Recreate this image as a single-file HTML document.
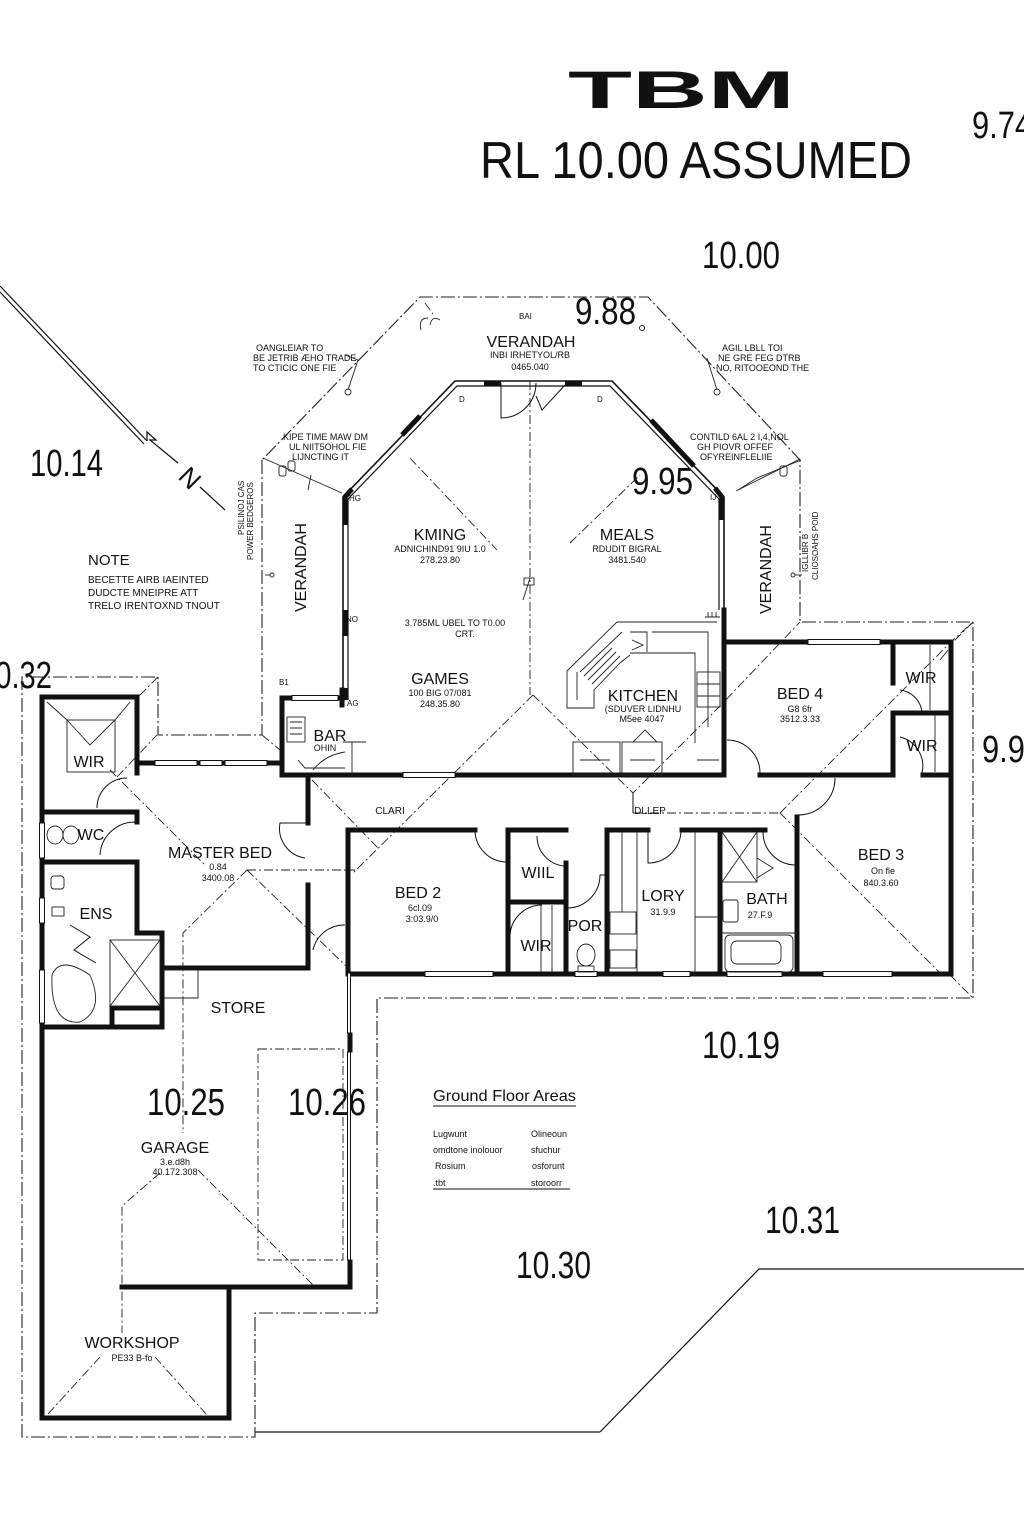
<!DOCTYPE html>
<html><head><meta charset="utf-8"><style>
html,body{margin:0;padding:0;background:#fff;}
svg{display:block;}
text{font-family:"Liberation Sans",Arial,sans-serif;fill:#111;}
.s{font-size:9px;}
.l{font-size:16px;}
.n{font-size:38px;}
</style></head><body>
<svg width="1024" height="1536" viewBox="0 0 1024 1536" xmlns="http://www.w3.org/2000/svg">
<rect width="1024" height="1536" fill="#fff"/>

<!-- Titles -->
<text x="568" y="108" font-size="53" font-weight="bold" textLength="227" lengthAdjust="spacingAndGlyphs">TBM</text>
<text x="480" y="178" font-size="52" textLength="432" lengthAdjust="spacingAndGlyphs">RL 10.00 ASSUMED</text>

<!-- Level numbers -->
<g class="n">
<text x="972" y="138" textLength="60" lengthAdjust="spacingAndGlyphs">9.74</text>
<text x="702" y="268" textLength="78" lengthAdjust="spacingAndGlyphs">10.00</text>
<text x="575" y="324" textLength="61" lengthAdjust="spacingAndGlyphs">9.88</text>
<text x="30" y="476" textLength="73" lengthAdjust="spacingAndGlyphs">10.14</text>
<text x="632" y="494" textLength="61" lengthAdjust="spacingAndGlyphs">9.95</text>
<text x="-21" y="688" textLength="73" lengthAdjust="spacingAndGlyphs">10.32</text>
<text x="982" y="762" textLength="60" lengthAdjust="spacingAndGlyphs">9.95</text>
<text x="702" y="1058" textLength="78" lengthAdjust="spacingAndGlyphs">10.19</text>
<text x="147" y="1115" textLength="78" lengthAdjust="spacingAndGlyphs">10.25</text>
<text x="288" y="1115" textLength="78" lengthAdjust="spacingAndGlyphs">10.26</text>
<text x="765" y="1233" textLength="75" lengthAdjust="spacingAndGlyphs">10.31</text>
<text x="516" y="1278" textLength="75" lengthAdjust="spacingAndGlyphs">10.30</text>
</g>

<!-- Property line / north -->
<g stroke="#111" stroke-width="1.2" fill="none">
<path d="M0,286 L147,441"/>
<path d="M0,292 L144,444"/>
<path d="M147,441 L147,432 L156,440 L150,440 L178,463"/>
<path d="M200,487 L225,510"/>
<path d="M600,1432 L759,1269 L1024,1269"/>
<path d="M255,1432 L600,1432"/>
</g>
<text x="190" y="487" font-size="26" transform="rotate(45 190 478)" text-anchor="middle">N</text>

<!-- Dash-dot boundaries -->
<g stroke="#222" stroke-width="1.1" fill="none" stroke-dasharray="14 3 2 3">
<path d="M262,460 L262,735 L158,735 L158,677 L22,677 L22,1437 L255,1437 L255,1313 L377,1313 L377,998 L973,998 L973,622 L800,622 L800,460 L648,297 L420,297 L262,460"/>
</g>

<!-- Roof hip dashed lines -->
<g stroke="#222" stroke-width="0.9" fill="none" stroke-dasharray="9 3 2 3">
<path d="M530,381 L530,695"/>
<path d="M533,695 L352,874"/>
<path d="M247,870 L355,870"/>
<path d="M247,870 L183,933 L183,1133"/>
<path d="M247,870 L347,967"/>
<path d="M312,780 L378,848"/>
<path d="M110,770 L205,865"/>
<path d="M117,777 L157,735"/>
<path d="M262,735 L280,750"/>
<path d="M533,695 L633,793 L720,706 L800,622"/>
<path d="M633,813 L780,813"/>
<path d="M780,813 L953,640 L973,622"/>
<path d="M780,813 L940,973"/>
<path d="M950,975 L973,998"/>
<path d="M410,458 L497,550"/>
<path d="M570,543 L640,475"/>
<path d="M160,1173 L122,1206 L122,1333"/>
<path d="M198,1170 L313,1285"/>
<path d="M100,1357 L48,1414"/>
<path d="M155,1357 L207,1415"/>
<path d="M258,1049 L343,1049 L343,1260 L258,1260 Z"/>
<path d="M425,303 L433,314"/>
<path d="M158,677 L135,700"/>
<path d="M973,622 L953,642"/>
</g>
<path d="M633,793 L633,813" stroke="#111" stroke-width="1" fill="none"/>

<!-- Octagon living walls -->
<g fill="none" stroke="#111">
<path d="M343,700 L343,497 L455,381 L612,381 L724,497 L724,610" stroke-width="1.6"/>
<path d="M348,700 L348,499 L457,386 L610,386 L719,499 L719,610" stroke-width="1.2"/>
<g stroke-width="5">
<path d="M345,525 L345,497 L352,489"/>
<path d="M345,610 L345,636"/>
<path d="M345,688 L345,700"/>
<path d="M402,435 L420,416"/>
<path d="M484,383 L501,383"/>
<path d="M565,383 L582,383"/>
<path d="M651,420 L694,466"/>
<path d="M715,488 L722,497 L722,520"/>
</g>
</g>
<!-- top door -->
<g fill="none" stroke="#111" stroke-width="1">
<path d="M501,383 L501,418 A35,35 0 0 0 536,383"/>
<path d="M565,385 L542,410 L536,396"/>
</g>

<!-- Thick walls -->
<g fill="none" stroke="#111" stroke-width="5" stroke-linecap="square">
<path d="M42,697 L137,697 L137,773"/>
<path d="M42,697 L42,1418 L229,1418 L229,1287"/>
<path d="M122,1287 L350,1287 L350,1262"/>
<path d="M350,1050 L350,1035"/>
<path d="M137,763 L282,763"/>
<path d="M282,775 L282,698 L342,698"/>
<path d="M342,690 L342,705"/>
<path d="M282,775 L724,775"/>
<path d="M308,775 L308,823"/>
<path d="M308,885 L308,968 L162,968"/>
<path d="M42,812 L137,812 L137,822"/>
<path d="M42,862 L137,862 L137,933 L162,933 L162,1027"/>
<path d="M42,1027 L162,1027"/>
<path d="M112,1027 L112,1008 L162,1008"/>
<path d="M348,830 L348,974"/>
<path d="M348,830 L475,830"/>
<path d="M508,830 L566,830"/>
<path d="M508,830 L508,974"/>
<path d="M508,902 L566,902"/>
<path d="M566,863 L566,974"/>
<path d="M607,974 L607,830 L648,830"/>
<path d="M682,830 L765,830"/>
<path d="M720,830 L720,974"/>
<path d="M797,817 L797,974"/>
<path d="M348,974 L951,974"/>
<path d="M724,610 L724,775"/>
<path d="M724,642 L951,642 L951,974"/>
<path d="M893,642 L893,683"/>
<path d="M893,713 L951,713"/>
<path d="M893,713 L893,775 L760,775"/>
<path d="M923,775 L951,775"/>
</g>

<!-- Windows (double thin lines) -->
<g fill="#fff" stroke="#111" stroke-width="1">
<rect x="155" y="760.5" width="42" height="5"/>
<rect x="200" y="760.5" width="22" height="5"/>
<rect x="225" y="760.5" width="42" height="5"/>
<rect x="292" y="695.5" width="46" height="5"/>
<rect x="403" y="772.5" width="52" height="5"/>
<rect x="39.5" y="823" width="5" height="35"/>
<rect x="39.5" y="898" width="5" height="25"/>
<rect x="39.5" y="970" width="5" height="53"/>
<rect x="425" y="971.5" width="68" height="5"/>
<rect x="575" y="971.5" width="22" height="5"/>
<rect x="663" y="971.5" width="27" height="5"/>
<rect x="727" y="971.5" width="55" height="5"/>
<rect x="823" y="971.5" width="69" height="5"/>
<rect x="808" y="639.5" width="72" height="5"/>
<rect x="347.5" y="973" width="3" height="60"/>
<rect x="347.5" y="1052" width="3" height="208"/>
</g>

<!-- Doors -->
<g fill="none" stroke="#111" stroke-width="1">
<path d="M308,823 L280,823 A30,30 0 0 0 305,858"/>
<path d="M97,808 A30,30 0 0 1 127,778"/>
<path d="M100,855 A35,35 0 0 1 135,822"/>
<path d="M70,925 L90,937 L74,950 L96,963"/>
<path d="M313,950 A32,32 0 0 1 345,925"/>
<path d="M475,830 A32,32 0 0 0 507,862"/>
<path d="M537,836 A30,30 0 0 0 564,866"/>
<path d="M510,937 A32,32 0 0 1 542,905"/>
<path d="M567,908 A33,33 0 0 0 600,875 L607,875"/>
<path d="M648,830 L648,863 A33,33 0 0 0 681,830"/>
<path d="M763,832 A33,33 0 0 0 796,865"/>
<path d="M798,815 A37,37 0 0 0 835,778"/>
<path d="M727,740 A33,33 0 0 1 760,773"/>
<path d="M900,690 A25,25 0 0 1 922,712"/>
<path d="M900,737 A30,30 0 0 1 922,773"/>
</g>

<!-- Fixtures / fittings -->
<g fill="none" stroke="#222" stroke-width="0.9">
<!-- left WIR hip -->
<path d="M47,702 L67,720 M130,702 L115,720"/>
<rect x="67" y="720" width="48" height="52"/>
<path d="M67,720 L90,745 L115,720"/>
<!-- WC -->
<ellipse cx="55" cy="835" rx="8" ry="9"/>
<ellipse cx="71" cy="835" rx="8" ry="9"/>
<!-- ENS -->
<rect x="51" y="876" width="13" height="13" rx="3"/>
<rect x="52" y="907" width="12" height="9"/>
<rect x="110" y="940" width="50" height="66"/>
<path d="M110,940 L160,1006 M160,940 L110,1006"/>
<path d="M52,975 Q60,955 90,975 Q105,1010 80,1022 Q50,1025 52,975"/>
<!-- BAR -->
<rect x="287" y="717" width="18" height="25"/>
<path d="M290,722 h12 M290,728 h12 M290,734 h12"/>
<path d="M298,760 L305,768 L345,768 M345,752 Q325,755 313,770"/>
<path d="M352,742 L352,775 M343,742 L366,742"/>
<!-- Kitchen -->
<path d="M617,622 L717,622 M617,622 L567,671 L567,708 L594,708 L594,690 L620,663 L630,655"/>
<path d="M577,672 L577,700 M622,632 L580,672"/>
<path d="M630,653 L695,653 L695,743"/>
<path d="M630,632 L647,632 L647,652 M652,632 L708,632 L708,727"/>
<path d="M632,640 L643,645 L632,650"/>
<path d="M584,676 L612,648 M588,680 L616,652 M592,684 L620,656"/>
<rect x="573" y="742" width="47" height="33"/>
<rect x="622" y="742" width="40" height="33"/>
<path d="M633,742 L645,730 L657,742"/>
<rect x="697" y="672" width="23" height="35"/>
<path d="M697,684 h23 M697,696 h23"/>
<path d="M705,617 h15 M708,612 v5 M712,612 v5 M716,612 v5"/>
<path d="M580,760 h30 M630,760 h25 M697,760 h22"/>
<!-- LORY -->
<path d="M622,832 L622,912 M637,832 L637,972 M695,832 L695,972 M695,917 L720,917"/>
<rect x="610" y="912" width="26" height="22"/>
<rect x="610" y="950" width="26" height="18"/>
<!-- POR -->
<ellipse cx="586" cy="955" rx="9" ry="11"/>
<rect x="578" y="966" width="16" height="6"/>
<!-- WIR bed2 -->
<path d="M541,905 L541,972 M552,905 L552,972"/>
<!-- BATH -->
<rect x="722" y="832" width="35" height="50"/>
<path d="M722,832 L757,882 M757,832 L722,882"/>
<path d="M757,858 L773,868 L757,878"/>
<rect x="723" y="900" width="15" height="22" rx="2"/>
<path d="M720,933 L797,933"/>
<rect x="725" y="935" width="68" height="37" rx="5"/>
<rect x="731" y="941" width="50" height="23" rx="6"/>
<!-- Bed4 WIRs -->
<path d="M930,645 L930,710 M935,715 L935,772"/>
<path d="M940,660 L948,650"/>
<!-- store -->
<path d="M163,970 L198,970 L198,998 L163,998"/>
<!-- verandah leaders -->
<path d="M263,458 L342,493"/>
<path d="M800,459 L736,491"/>
<path d="M345,355 L358,360 L348,390"/>
<circle cx="348" cy="392" r="3"/>
<path d="M707,358 L717,390"/>
<circle cx="717" cy="392" r="3"/>
<path d="M311,475 L308,490"/>
<path d="M757,478 L738,490 M757,478 L801,460"/>
<path d="M421,330 Q418,318 428,318 M430,325 Q432,315 440,320"/>
<circle cx="642" cy="328" r="2.5"/>
<rect x="279" y="466" width="7" height="10" rx="2"/>
<rect x="288" y="461" width="7" height="10" rx="2"/>
<rect x="780" y="466" width="7" height="10" rx="2"/>
<path d="M265,575 L270,575"/>
<circle cx="272" cy="575" r="2"/>
<path d="M795,575 L802,575"/>
<circle cx="793" cy="575" r="2"/>
<path d="M530,578 L523,600"/>
<rect x="524" y="578" width="10" height="7"/>
</g>

<!-- Notes -->
<g class="s">
<text x="256" y="351">OANGLEIAR TO</text>
<text x="253" y="361">BE JETRIB ÆHO TRADE</text>
<text x="253" y="371">TO CTICIC ONE FIE</text>
<text x="722" y="351">AGIL LBLL TOI</text>
<text x="718" y="361">NE GRE FEG DTRB</text>
<text x="716" y="371">NO, RITOOEOND THE</text>
<text x="283" y="440">KIPE TIME MAW DM</text>
<text x="289" y="450">UL NIIT5OHOL FIE</text>
<text x="292" y="460">LIJNCTING IT</text>
<text x="690" y="440">CONTILD 6AL 2 I,4,NOL</text>
<text x="697" y="450">GH PIOVR OFFEF</text>
<text x="700" y="460">OFYREINFLELIIE</text>
<text x="519" y="319" font-size="8">BAI</text>
<text x="459" y="402" font-size="8">D</text>
<text x="597" y="402" font-size="8">D</text>
<text x="349" y="501" font-size="8">HG</text>
<text x="710" y="500" font-size="8">IJ</text>
<text x="346" y="622" font-size="8">NO</text>
<text x="347" y="706" font-size="8">AG</text>
<text x="279" y="685" font-size="8">B1</text>
<text x="244" y="535" transform="rotate(-90 244 535)" font-size="8">PSILINOJ CAS</text>
<text x="253" y="560" transform="rotate(-90 253 560)" font-size="8">POWER BEDGEROS</text>
<text x="808" y="572" transform="rotate(-90 808 572)" font-size="8">IGLLIBR B</text>
<text x="818" y="580" transform="rotate(-90 818 580)" font-size="8">CLIOSOAHS POID</text>
</g>

<text x="88" y="565" font-size="15">NOTE</text>
<g font-size="10">
<text x="88" y="583">BECETTE AIRB IAEINTED</text>
<text x="88" y="596">DUDCTE MNEIPRE ATT</text>
<text x="88" y="609">TRELO IRENTOXND TNOUT</text>
</g>

<!-- Verandah rotated labels -->
<text x="306" y="612" class="l" font-size="17" transform="rotate(-90 306 612)">VERANDAH</text>
<text x="771" y="614" class="l" font-size="17" transform="rotate(-90 771 614)">VERANDAH</text>

<!-- Room labels -->
<g class="l" text-anchor="middle">
<text x="531" y="347">VERANDAH</text>
<text x="440" y="540">KMING</text>
<text x="627" y="540">MEALS</text>
<text x="440" y="684">GAMES</text>
<text x="643" y="701">KITCHEN</text>
<text x="800" y="699">BED 4</text>
<text x="921" y="683">WIR</text>
<text x="922" y="751">WIR</text>
<text x="330" y="741">BAR</text>
<text x="89" y="767">WIR</text>
<text x="91" y="840">WC</text>
<text x="220" y="858">MASTER BED</text>
<text x="96" y="919">ENS</text>
<text x="238" y="1013">STORE</text>
<text x="418" y="898">BED 2</text>
<text x="538" y="878">WIIL</text>
<text x="536" y="951">WIR</text>
<text x="585" y="931">POR</text>
<text x="663" y="901">LORY</text>
<text x="767" y="904">BATH</text>
<text x="881" y="860">BED 3</text>
<text x="175" y="1153">GARAGE</text>
<text x="132" y="1348">WORKSHOP</text>
</g>
<g class="s" text-anchor="middle">
<text x="530" y="358">INBI IRHETYOL/RB</text>
<text x="530" y="370">0465.040</text>
<text x="440" y="552">ADNICHIND91 9IU 1.0</text>
<text x="440" y="563">278.23.80</text>
<text x="627" y="552">RDUDIT BIGRAL</text>
<text x="627" y="563">3481.540</text>
<text x="455" y="626">3.785ML UBEL TO T0.00</text>
<text x="465" y="637">CRT.</text>
<text x="440" y="696">100 BIG 07/081</text>
<text x="440" y="707">248.35.80</text>
<text x="643" y="712">(SDUVER LIDNHU</text>
<text x="642" y="722">M5ee 4047</text>
<text x="800" y="712">G8 6fr</text>
<text x="800" y="722">3512.3.33</text>
<text x="325" y="751">OHIN</text>
<text x="218" y="870">0.84</text>
<text x="218" y="881">3400.08</text>
<text x="420" y="911">6cl.09</text>
<text x="422" y="922">3:03.9/0</text>
<text x="663" y="915">31.9.9</text>
<text x="760" y="918">27.F.9</text>
<text x="883" y="874">On fle</text>
<text x="881" y="886">840.3.60</text>
<text x="175" y="1165">3.e.d8h</text>
<text x="175" y="1175">40.172.308</text>
<text x="132" y="1361">PE33 B-fo</text>
</g>
<text x="390" y="814" font-size="10" text-anchor="middle">CLARI</text>
<text x="650" y="814" font-size="10" text-anchor="middle">DLLEP</text>

<!-- Ground floor areas -->
<text x="433" y="1101" font-size="16" textLength="143" lengthAdjust="spacingAndGlyphs">Ground Floor Areas</text>
<path d="M433,1106 L576,1106 M433,1189 L570,1189" stroke="#111" stroke-width="1"/>
<g font-size="9">
<text x="433" y="1137">Lugwunt</text>
<text x="531" y="1137">Olineoun</text>
<text x="433" y="1153">omdtone inolouor</text>
<text x="531" y="1153">sfuchur</text>
<text x="435" y="1169">Rosium</text>
<text x="532" y="1169">osforunt</text>
<text x="433" y="1186">.tbt</text>
<text x="531" y="1186">storoorr</text>
</g>

</svg>
</body></html>
